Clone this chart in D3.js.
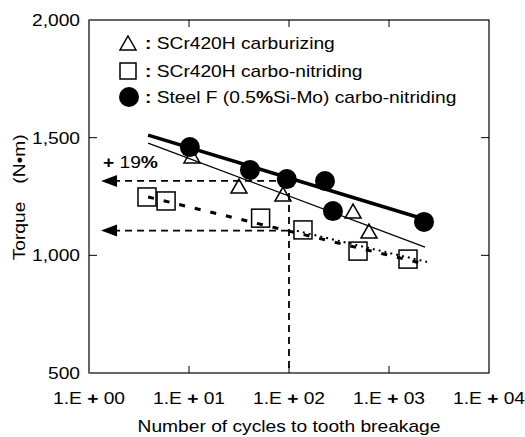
<!DOCTYPE html>
<html>

<head>
    <title>Torque vs cycles</title>
    <script src="https://d3js.org/d3.v7.min.js"></script>
    <style>
        body {
            margin: 0;
            background: #fff;
        }

        text {
            font-family: "Liberation Sans", Arial, sans-serif;
            fill: #000;
        }
    </style>
</head>

<body>
<script>
    var w = 525;
    var h = 437;

    // SCr420H carburizing (triangles)
    var triCycles = [10.7, 31.6, 87, 437, 631];
    var triTorque = [1418, 1290, 1256, 1184, 1099];

    // SCr420H carbo-nitriding (squares)
    var sqCycles = [3.8, 5.9, 52, 138, 490, 1549];
    var sqTorque = [1248, 1231, 1158, 1108, 1018, 984];

    // Steel F carbo-nitriding (filled circles)
    var cirCycles = [10.2, 40.7, 95, 229, 275, 2239];
    var cirTorque = [1460, 1363, 1324, 1316, 1188, 1142];

    // fitted lines
    var cirFitCycles = [3.9, 2400];
    var cirFitTorque = [1511, 1150];
    var triFitCycles = [3.9, 2290];
    var triFitTorque = [1477, 1035];
    var sqFitCycles = [3.9, 2290];
    var sqFitTorque = [1248, 963];
    var sqFit2Cycles = [120, 2400];
    var sqFit2Torque = [1104, 972];

    // reference arrows (at 1.E+02 cycles)
    var refStartCycles = 1.32;
    var refCycles = 100;
    var refTorque = [1316, 1105];

    var xTicks = [1, 10, 100, 1000, 10000];
    var xTickExp = ["00", "01", "02", "03", "04"];
    var yTicks = [500, 1000, 1500, 2000];
    var yTickLabels = ["500", "1,000", "1,500", "2,000"];

    var legendLabels = ["SCr420H carburizing", "SCr420H carbo-nitriding", "Steel F (0.5%Si-Mo) carbo-nitriding"];

    var stretch = 1.2;
    var fs = 16;

    var plotLeft = 89, plotRight = 489, plotTop = 20, plotBottom = 373;

    var x = d3.scaleLog().domain([1, 10000]).range([plotLeft, plotRight]);
    var y = d3.scaleLinear().domain([500, 2000]).range([plotBottom, plotTop]);

    var svg = d3.select("body")
        .append("svg")
        .attr("width", w)
        .attr("height", h);

    function zip(a, b) {
        return a.map(function (d, i) { return { n: d, t: b[i] }; });
    }

    // stretched text helper
    function addText(px, py, anchor, parts, rotate) {
        var g = svg.append("g")
            .attr("transform", "translate(" + px + "," + py + ")" + (rotate ? " rotate(-90)" : "") + " scale(" + stretch + ",1)");
        var t = g.append("text")
            .attr("text-anchor", anchor)
            .style("font-size", fs + "px");
        parts.forEach(function (p) {
            t.append("tspan")
                .style("font-weight", p.b ? "bold" : "normal")
                .text(p.s);
        });
        return t;
    }

    // frame
    svg.append("rect")
        .attr("x", plotLeft)
        .attr("y", plotTop)
        .attr("width", plotRight - plotLeft)
        .attr("height", plotBottom - plotTop)
        .attr("fill", "none")
        .attr("stroke", "#000")
        .attr("stroke-width", 1.2);
    svg.append("line")
        .attr("x1", plotLeft).attr("x2", plotLeft)
        .attr("y1", plotTop).attr("y2", plotBottom)
        .attr("stroke", "#666")
        .attr("stroke-width", 1.5);

    // inward ticks
    xTicks.slice(1, -1).forEach(function (v) {
        svg.append("line")
            .attr("x1", x(v)).attr("x2", x(v))
            .attr("y1", plotBottom).attr("y2", plotBottom - 7)
            .attr("stroke", "#000");
        svg.append("line")
            .attr("x1", x(v)).attr("x2", x(v))
            .attr("y1", plotTop).attr("y2", plotTop + 7)
            .attr("stroke", "#000");
    });
    yTicks.slice(1, -1).forEach(function (v) {
        svg.append("line")
            .attr("x1", plotLeft).attr("x2", plotLeft + 8)
            .attr("y1", y(v)).attr("y2", y(v))
            .attr("stroke", "#000");
        svg.append("line")
            .attr("x1", plotRight).attr("x2", plotRight - 8)
            .attr("y1", y(v)).attr("y2", y(v))
            .attr("stroke", "#000");
    });

    // tick labels
    xTicks.forEach(function (v, i) {
        addText(x(v), 404, "middle", [{ s: "1.E " }, { s: "+", b: true }, { s: " " + xTickExp[i] }]);
    });
    yTicks.forEach(function (v, i) {
        addText(80, y(v) + 6, "end", [{ s: yTickLabels[i] }]);
    });

    // axis titles
    addText((plotLeft + plotRight) / 2, 432, "middle", [{ s: "Number of cycles to tooth breakage" }]);
    addText(25, 231, "middle", [{ s: "Torque" }], true);
    addText(25, 159, "middle", [{ s: "(N\u2022m)" }], true);

    var line = d3.line()
        .x(function (d) { return x(d.n); })
        .y(function (d) { return y(d.t); });

    // markers
    svg.selectAll(".sq")
        .data(zip(sqCycles, sqTorque))
        .enter()
        .append("rect")
        .attr("class", "sq")
        .attr("x", function (d) { return x(d.n) - 9; })
        .attr("y", function (d) { return y(d.t) - 9; })
        .attr("width", 18)
        .attr("height", 18)
        .attr("fill", "#fff")
        .attr("stroke", "#000")
        .attr("stroke-width", 1.5);

    var triPath = "M0,-8L8,6L-8,6Z";
    svg.selectAll(".tri")
        .data(zip(triCycles, triTorque))
        .enter()
        .append("path")
        .attr("class", "tri")
        .attr("d", triPath)
        .attr("transform", function (d) { return "translate(" + x(d.n) + "," + y(d.t) + ")"; })
        .attr("fill", "#fff")
        .attr("stroke", "#000")
        .attr("stroke-width", 1.5);

    // fit lines
    svg.append("path")
        .attr("d", line(zip(triFitCycles, triFitTorque)))
        .attr("fill", "none")
        .attr("stroke", "#000")
        .attr("stroke-width", 1.3);
    svg.append("path")
        .attr("d", line(zip(sqFitCycles, sqFitTorque)))
        .attr("fill", "none")
        .attr("stroke", "#000")
        .attr("stroke-width", 3)
        .attr("stroke-dasharray", "6,10");
    svg.append("path")
        .attr("d", line(zip(sqFit2Cycles, sqFit2Torque)))
        .attr("fill", "none")
        .attr("stroke", "#000")
        .attr("stroke-width", 2)
        .attr("stroke-dasharray", "2,4");

    svg.selectAll(".cir")
        .data(zip(cirCycles, cirTorque))
        .enter()
        .append("circle")
        .attr("class", "cir")
        .attr("cx", function (d) { return x(d.n); })
        .attr("cy", function (d) { return y(d.t); })
        .attr("r", 10)
        .attr("fill", "#000");

    svg.append("path")
        .attr("d", line(zip(cirFitCycles, cirFitTorque)))
        .attr("fill", "none")
        .attr("stroke", "#000")
        .attr("stroke-width", 3.5);

    // reference dashed lines with arrows
    refTorque.forEach(function (t) {
        svg.append("line")
            .attr("x1", x(refStartCycles) + 12).attr("x2", x(refCycles))
            .attr("y1", y(t)).attr("y2", y(t))
            .attr("stroke", "#000")
            .attr("stroke-width", 1.8)
            .attr("stroke-dasharray", "7,5");
        svg.append("path")
            .attr("d", "M0,0L16,-6L16,6Z")
            .attr("transform", "translate(" + x(refStartCycles) + "," + y(t) + ")")
            .attr("fill", "#000");
    });
    svg.append("line")
        .attr("x1", x(refCycles)).attr("x2", x(refCycles))
        .attr("y1", y(refTorque[0])).attr("y2", y(500))
        .attr("stroke", "#000")
        .attr("stroke-width", 1.8)
        .attr("stroke-dasharray", "7,5");

    addText(103, 168, "start", [{ s: "+", b: true }, { s: " 19" }, { s: "%", b: true }]);

    // legend
    var legY = [43, 71, 97];
    svg.append("path")
        .attr("d", triPath)
        .attr("transform", "translate(128," + (legY[0] + 1) + ")")
        .attr("fill", "#fff")
        .attr("stroke", "#000")
        .attr("stroke-width", 1.5);
    svg.append("rect")
        .attr("x", 120).attr("y", legY[1] - 8)
        .attr("width", 16).attr("height", 16)
        .attr("fill", "#fff")
        .attr("stroke", "#000")
        .attr("stroke-width", 1.5);
    svg.append("circle")
        .attr("cx", 129).attr("cy", legY[2])
        .attr("r", 10)
        .attr("fill", "#000");

    addText(145, legY[0] + 6, "start", [{ s: ": ", b: true }, { s: legendLabels[0] }]);
    addText(145, legY[1] + 6, "start", [{ s: ": ", b: true }, { s: legendLabels[1] }]);
    addText(145, legY[2] + 6, "start", [{ s: ": ", b: true }, { s: "Steel F (0.5" }, { s: "%", b: true }, { s: "Si-Mo) carbo-nitriding" }]);
</script>
</body>

</html>
